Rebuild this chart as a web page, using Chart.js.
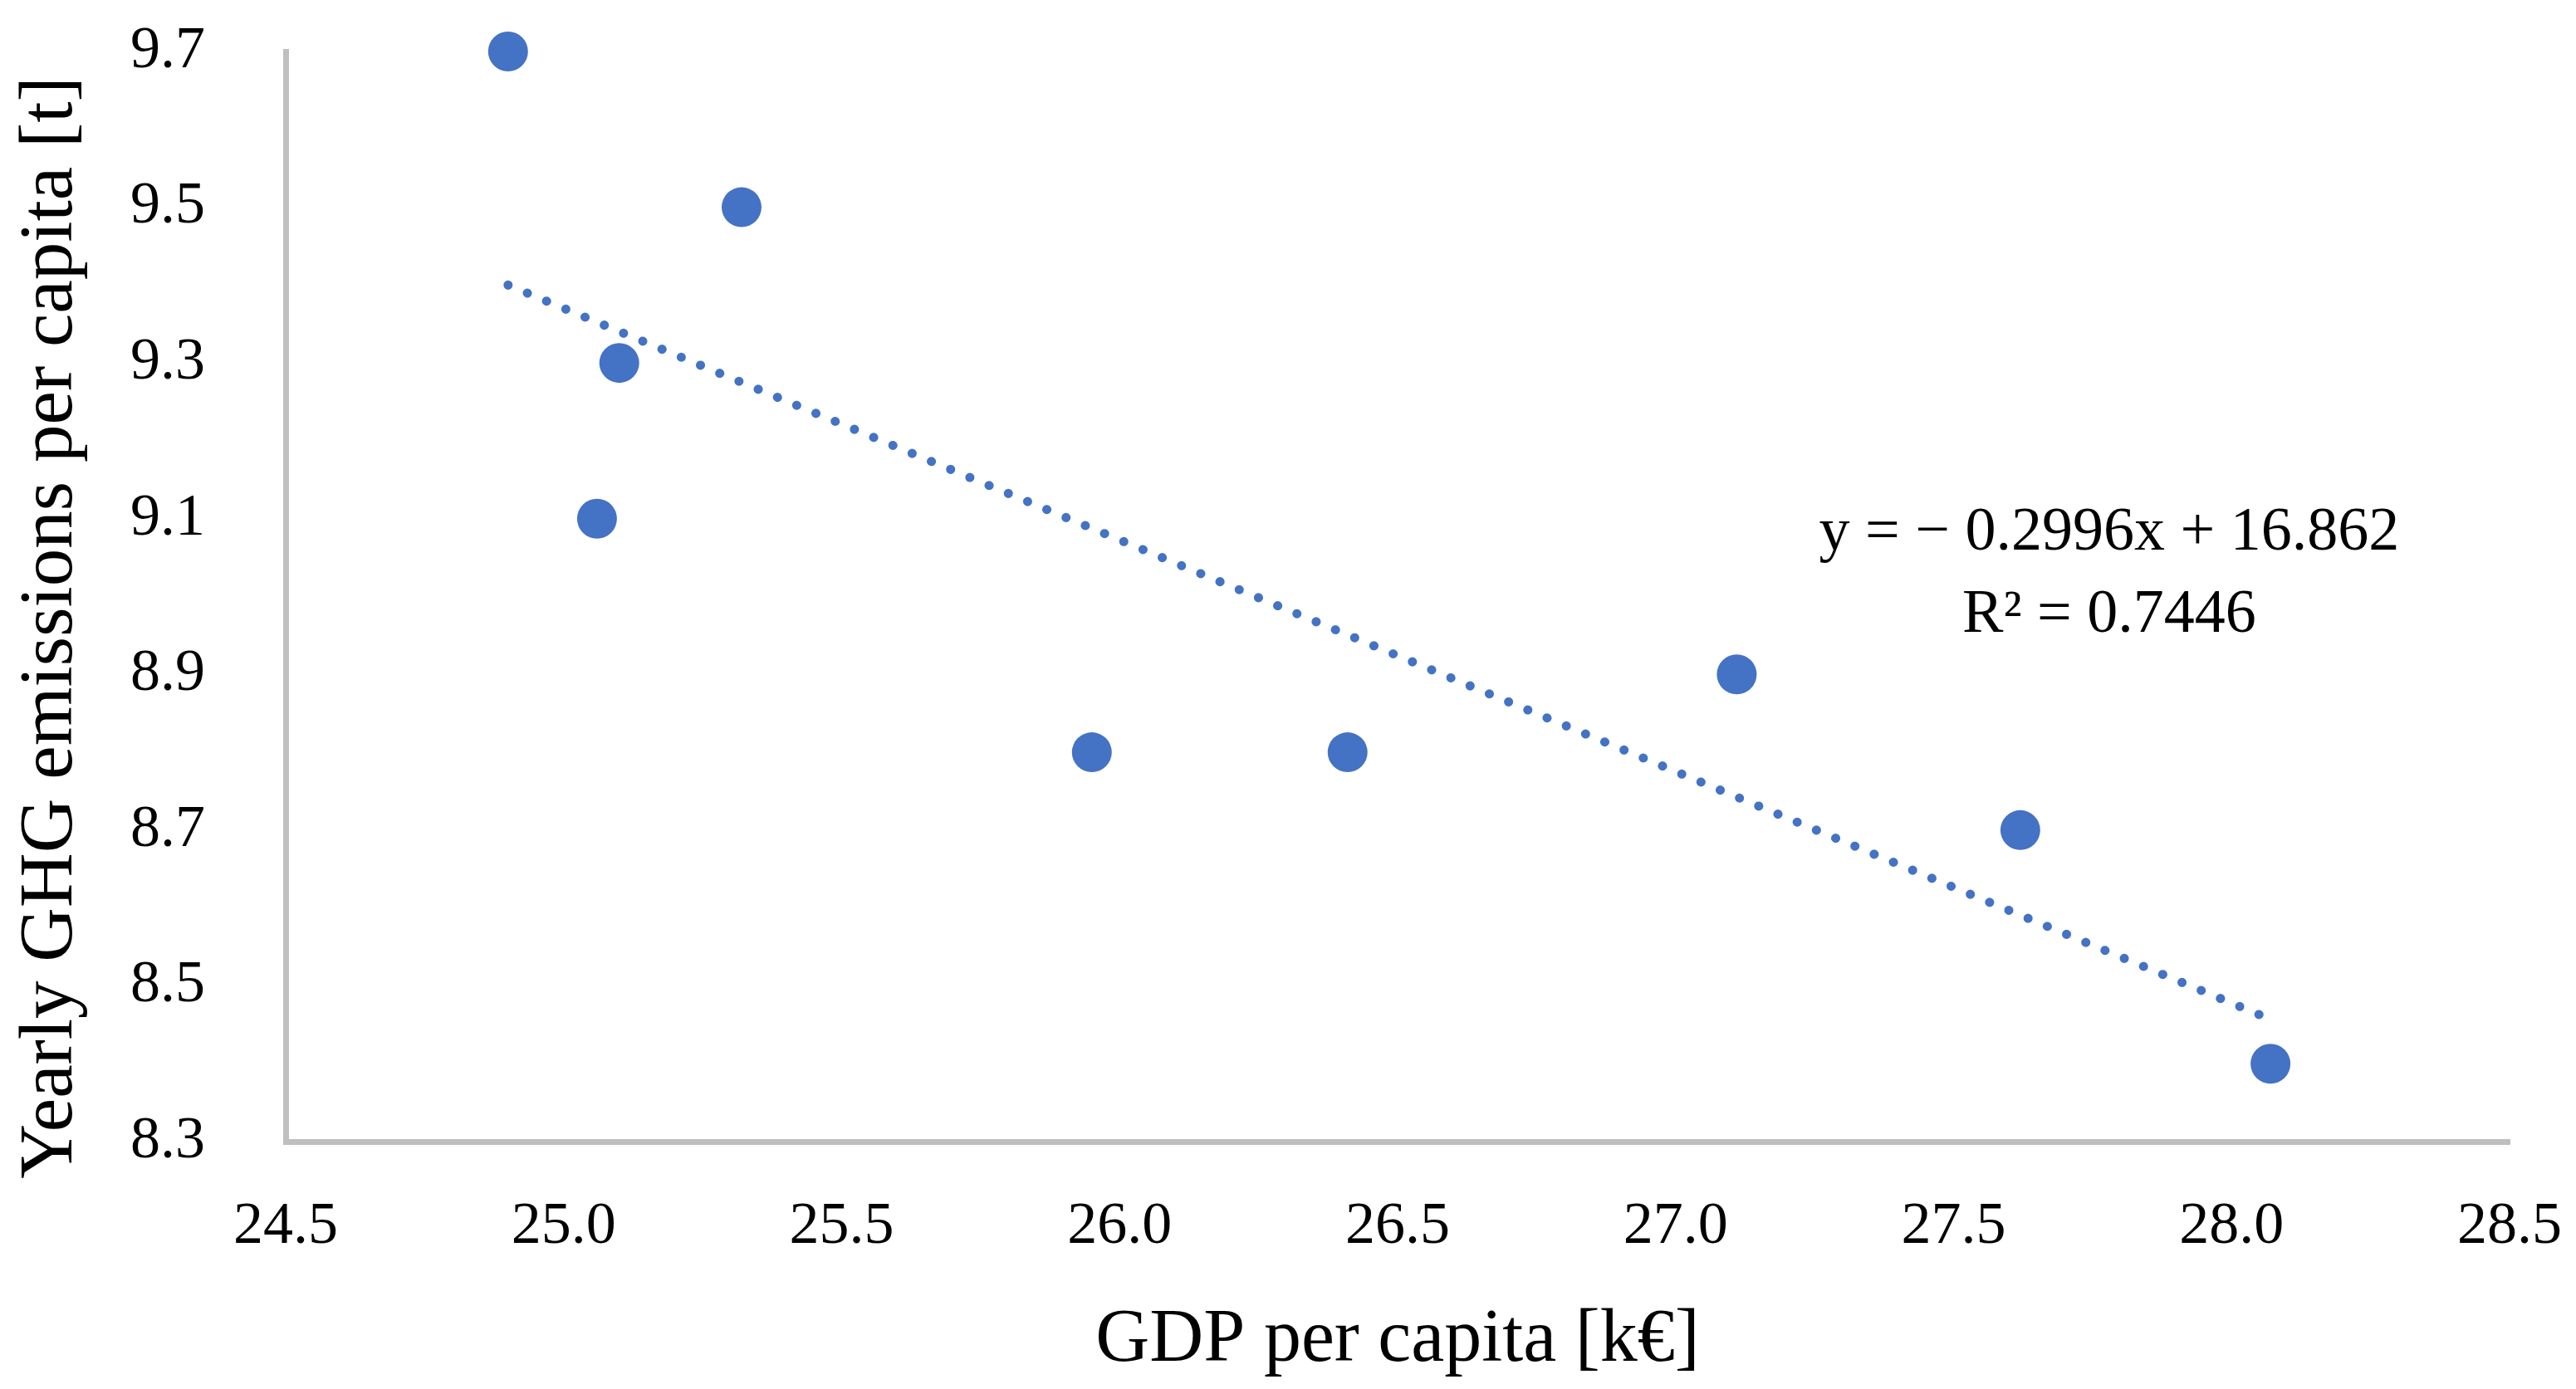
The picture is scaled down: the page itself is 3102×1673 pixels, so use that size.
<!DOCTYPE html>
<html>
<head>
<meta charset="utf-8">
<script src="https://cdn.jsdelivr.net/npm/chart.js@4/dist/chart.umd.min.js"></script>
<style>
  html, body { margin: 0; padding: 0; background: #fff; }
  #wrap { width: 100vw; height: 100vh; }
</style>
</head>
<body>
<div id="wrap"><canvas id="chart"></canvas></div>
<script>
// values
const gdp = [24.90, 25.32, 25.10, 25.06, 25.95, 26.41, 27.11, 27.62, 28.07];
const ghg = [9.7, 9.5, 9.3, 9.1, 8.8, 8.8, 8.9, 8.7, 8.4];

// trendline ends, as seen in the picture
const trendX = [24.90, 28.06];
const trendY = [9.40, 8.46];

const eqLines = ["y = \u2212 0.2996x + 16.862", "R\u00b2 = 0.7446"];
const yTitle = "Yearly GHG emissions per capita [t]";

const blue = "#4472C4";
const axisGrey = "#BFBFBF";
const serif = "'Liberation Serif', 'DejaVu Serif', serif";

// equation text and the y axis title (it sits a bit below the plot's centre)
const extraText = {
  id: "extraText",
  afterDraw(chart) {
    const { ctx, scales } = chart;
    const x = scales.x.getPixelForValue(27.78);
    const y = scales.y.getPixelForValue(9.06);
    ctx.save();
    ctx.fillStyle = "#000";
    ctx.font = "74px " + serif;
    ctx.textAlign = "center";
    ctx.textBaseline = "alphabetic";
    ctx.fillText(eqLines[0], x, y);
    ctx.fillText(eqLines[1], x, y + 99);

    ctx.font = "91px " + serif;
    ctx.translate(86, scales.y.getPixelForValue(8.96));
    ctx.rotate(-Math.PI / 2);
    ctx.fillText(yTitle, 0, 0);
    ctx.restore();
  }
};

new Chart(document.getElementById("chart"), {
  type: "scatter",
  data: {
    datasets: [
      {
        data: gdp.map((v, i) => ({ x: v, y: ghg[i] })),
        backgroundColor: blue,
        borderWidth: 0,
        pointRadius: 24,
        pointHoverRadius: 24,
        clip: false,
        order: 1
      },
      {
        type: "line",
        data: trendX.map((v, i) => ({ x: v, y: trendY[i] })),
        borderColor: blue,
        borderWidth: 11,
        borderDash: [0.1, 25],
        borderCapStyle: "round",
        pointRadius: 0,
        fill: false,
        clip: false,
        order: 2
      }
    ]
  },
  options: {
    responsive: true,
    maintainAspectRatio: false,
    animation: false,
    layout: { padding: { left: 4, top: 62, right: 80, bottom: 0 } },
    plugins: { legend: { display: false }, tooltip: { enabled: false } },
    scales: {
      x: {
        type: "linear",
        min: 24.5,
        max: 28.5,
        afterFit: s => {
          s.height = 298;
          s.paddingLeft = 0;
          s.paddingRight = 0;
        },
        grid: { display: false, drawTicks: false },
        border: { display: true, color: axisGrey, width: 7 },
        ticks: {
          stepSize: 0.5,
          padding: 60,
          color: "#000",
          font: { family: serif, size: 72 },
          callback: v => v.toFixed(1)
        },
        title: {
          display: true,
          text: "GDP per capita [k\u20ac]",
          color: "#000",
          font: { family: serif, size: 90 },
          padding: { top: 0, bottom: 4 }
        }
      },
      y: {
        type: "linear",
        min: 8.3,
        max: 9.7,
        afterFit: s => {
          s.width = 340;
          s.paddingTop = 0;
          s.paddingBottom = 0;
        },
        grid: { display: false, drawTicks: false },
        border: { display: true, color: axisGrey, width: 7 },
        ticks: {
          stepSize: 0.2,
          padding: 97,
          color: "#000",
          font: { family: serif, size: 72 },
          callback: v => v.toFixed(1)
        }
      }
    }
  },
  plugins: [extraText]
});
</script>
</body>
</html>
